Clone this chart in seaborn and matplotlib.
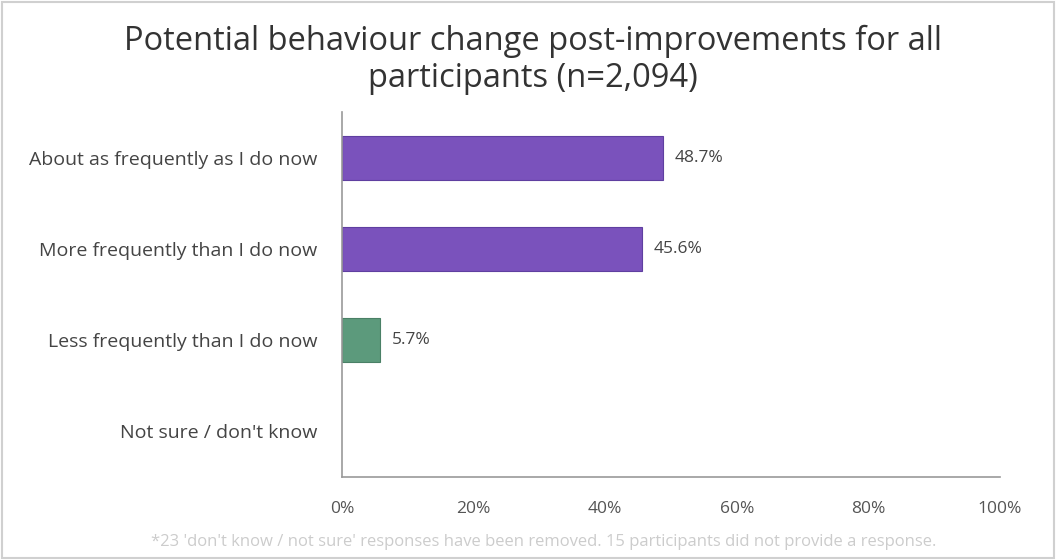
import matplotlib.pyplot as plt
import matplotlib.patches as mpatches
import pandas as pd
import seaborn as sns

# data
categories = ['About as frequently as I do now', 'More frequently than I do now',
              'Less frequently than I do now', 'Not sure / don\'t know']
values = [48.7, 45.6, 5.7, 0.0]
groups = ['purple', 'purple', 'green', 'green']
xticks = [0, 20, 40, 60, 80, 100]

df = pd.DataFrame({'category': categories, 'value': values, 'group': groups})

sns.set_style('white')
plt.rcParams['font.family'] = ['Open Sans', 'DejaVu Sans']

fig = plt.figure(figsize=(10.56, 5.6), dpi=100)
ax = fig.add_axes([0.324, 0.148, 0.623, 0.652])

sns.barplot(data=df, y='category', x='value', hue='group',
            palette={'purple': '#7A52BC', 'green': '#5C9A7C'}, saturation=1,
            width=0.48, dodge=False, legend=False, ax=ax,
            edgecolor='#5f3fa0', linewidth=0.8)
for p in ax.patches:
    if p.get_width() == 0:
        p.set_linewidth(0)
    elif p.get_width() < 10:
        p.set_edgecolor('#4a8066')

# value labels
for i, v in enumerate(values):
    if v > 0:
        ax.text(v + 1.8, i, f'{v:.1f}%', va='center', ha='left',
                fontsize=12.5, color='#444444')

ax.set_xlim(0, 100)
ax.set_ylim(3.5, -0.5)
ax.set_xticks(xticks)
ax.set_xticklabels([f'{t}%' for t in xticks], fontsize=12.5, color='#555555')
ax.tick_params(axis='x', pad=17, length=0)
ax.tick_params(axis='y', pad=18, length=0, labelsize=14, labelcolor='#444444')
ax.set_xlabel('')
ax.set_ylabel('')
for s in ['top', 'right']:
    ax.spines[s].set_visible(False)
for s in ['left', 'bottom']:
    ax.spines[s].set_color('#999999')
    ax.spines[s].set_linewidth(1.2)

fig.suptitle('Potential behaviour change post-improvements for all\nparticipants (n=2,094)',
             x=0.505, y=0.955, fontsize=23.5, color='#333333', linespacing=1.15)

fig.text(0.515, 0.032, "*23 'don't know / not sure' responses have been removed. 15 participants did not provide a response.",
         ha='center', va='center', fontsize=12, color='#cccccc')

# thin frame around the figure
fig.patches.append(mpatches.Rectangle((0.002, 0.004), 0.996, 0.992, transform=fig.transFigure,
                                      fill=False, edgecolor='#d0d0d0', linewidth=1.5))

fig.savefig('out.png', dpi=100)
